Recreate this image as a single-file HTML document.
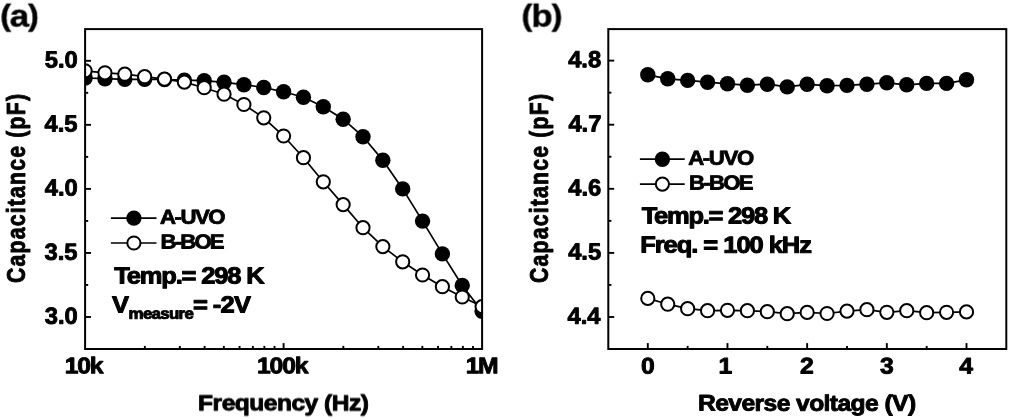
<!DOCTYPE html>
<html><head><meta charset="utf-8"><title>Capacitance plots</title>
<style>html,body{margin:0;padding:0;background:#fff}svg{display:block}</style></head>
<body>
<svg width="1009" height="418" viewBox="0 0 1009 418" font-family="'Liberation Sans', Arial, sans-serif" font-weight="bold" fill="#000">
<rect width="1009" height="418" fill="#fff"/>
<defs><clipPath id="ca"><rect x="85.1" y="29.1" width="397.00" height="319.90"/></clipPath><clipPath id="cb"><rect x="608.3" y="29.1" width="398.00" height="319.90"/></clipPath><filter id="soft" x="0" y="0" width="100%" height="100%" filterUnits="userSpaceOnUse"><feGaussianBlur stdDeviation="0.35"/></filter></defs>
<g filter="url(#soft)">
<g clip-path="url(#ca)">
<polyline points="85.10,78.00 104.95,78.70 124.80,79.30 144.65,79.30 164.50,79.50 184.35,80.10 204.20,80.70 224.05,82.30 243.90,84.70 263.75,87.50 283.60,91.80 303.45,97.30 323.30,106.70 343.15,119.20 363.00,136.70 382.85,160.30 402.70,188.90 422.55,221.10 442.40,253.90 462.25,285.50 482.10,311.30" fill="none" stroke="#000" stroke-width="1.7"/>
<circle cx="85.10" cy="78.00" r="7.7" fill="#000"/>
<circle cx="104.95" cy="78.70" r="7.7" fill="#000"/>
<circle cx="124.80" cy="79.30" r="7.7" fill="#000"/>
<circle cx="144.65" cy="79.30" r="7.7" fill="#000"/>
<circle cx="164.50" cy="79.50" r="7.7" fill="#000"/>
<circle cx="184.35" cy="80.10" r="7.7" fill="#000"/>
<circle cx="204.20" cy="80.70" r="7.7" fill="#000"/>
<circle cx="224.05" cy="82.30" r="7.7" fill="#000"/>
<circle cx="243.90" cy="84.70" r="7.7" fill="#000"/>
<circle cx="263.75" cy="87.50" r="7.7" fill="#000"/>
<circle cx="283.60" cy="91.80" r="7.7" fill="#000"/>
<circle cx="303.45" cy="97.30" r="7.7" fill="#000"/>
<circle cx="323.30" cy="106.70" r="7.7" fill="#000"/>
<circle cx="343.15" cy="119.20" r="7.7" fill="#000"/>
<circle cx="363.00" cy="136.70" r="7.7" fill="#000"/>
<circle cx="382.85" cy="160.30" r="7.7" fill="#000"/>
<circle cx="402.70" cy="188.90" r="7.7" fill="#000"/>
<circle cx="422.55" cy="221.10" r="7.7" fill="#000"/>
<circle cx="442.40" cy="253.90" r="7.7" fill="#000"/>
<circle cx="462.25" cy="285.50" r="7.7" fill="#000"/>
<circle cx="482.10" cy="311.30" r="7.7" fill="#000"/>
<polyline points="85.10,70.80 104.95,72.80 124.80,74.20 144.65,76.70 164.50,79.10 184.35,82.10 204.20,87.70 224.05,94.20 243.90,104.50 263.75,117.80 283.60,136.00 303.45,157.70 323.30,181.80 343.15,204.60 363.00,227.70 382.85,246.60 402.70,261.80 422.55,275.00 442.40,286.70 462.25,297.00 482.10,306.60" fill="none" stroke="#000" stroke-width="1.7"/>
<circle cx="85.10" cy="70.80" r="6.6" fill="#fff" stroke="#000" stroke-width="2.0"/>
<circle cx="104.95" cy="72.80" r="6.6" fill="#fff" stroke="#000" stroke-width="2.0"/>
<circle cx="124.80" cy="74.20" r="6.6" fill="#fff" stroke="#000" stroke-width="2.0"/>
<circle cx="144.65" cy="76.70" r="6.6" fill="#fff" stroke="#000" stroke-width="2.0"/>
<circle cx="164.50" cy="79.10" r="6.6" fill="#fff" stroke="#000" stroke-width="2.0"/>
<circle cx="184.35" cy="82.10" r="6.6" fill="#fff" stroke="#000" stroke-width="2.0"/>
<circle cx="204.20" cy="87.70" r="6.6" fill="#fff" stroke="#000" stroke-width="2.0"/>
<circle cx="224.05" cy="94.20" r="6.6" fill="#fff" stroke="#000" stroke-width="2.0"/>
<circle cx="243.90" cy="104.50" r="6.6" fill="#fff" stroke="#000" stroke-width="2.0"/>
<circle cx="263.75" cy="117.80" r="6.6" fill="#fff" stroke="#000" stroke-width="2.0"/>
<circle cx="283.60" cy="136.00" r="6.6" fill="#fff" stroke="#000" stroke-width="2.0"/>
<circle cx="303.45" cy="157.70" r="6.6" fill="#fff" stroke="#000" stroke-width="2.0"/>
<circle cx="323.30" cy="181.80" r="6.6" fill="#fff" stroke="#000" stroke-width="2.0"/>
<circle cx="343.15" cy="204.60" r="6.6" fill="#fff" stroke="#000" stroke-width="2.0"/>
<circle cx="363.00" cy="227.70" r="6.6" fill="#fff" stroke="#000" stroke-width="2.0"/>
<circle cx="382.85" cy="246.60" r="6.6" fill="#fff" stroke="#000" stroke-width="2.0"/>
<circle cx="402.70" cy="261.80" r="6.6" fill="#fff" stroke="#000" stroke-width="2.0"/>
<circle cx="422.55" cy="275.00" r="6.6" fill="#fff" stroke="#000" stroke-width="2.0"/>
<circle cx="442.40" cy="286.70" r="6.6" fill="#fff" stroke="#000" stroke-width="2.0"/>
<circle cx="462.25" cy="297.00" r="6.6" fill="#fff" stroke="#000" stroke-width="2.0"/>
<circle cx="482.10" cy="306.60" r="6.6" fill="#fff" stroke="#000" stroke-width="2.0"/>
</g>
<line x1="85.10" y1="60.80" x2="91.00" y2="60.80" stroke="#000" stroke-width="1.9"/>
<text transform="translate(44.69,67.50) scale(1.0200,1) rotate(0.03)" font-size="23.3" stroke="#000" stroke-width="0.9" stroke-linejoin="round">5.0</text>
<line x1="85.10" y1="124.85" x2="91.00" y2="124.85" stroke="#000" stroke-width="1.9"/>
<text transform="translate(44.43,131.55) scale(1.0200,1) rotate(0.03)" font-size="23.3" stroke="#000" stroke-width="0.9" stroke-linejoin="round">4.5</text>
<line x1="85.10" y1="188.90" x2="91.00" y2="188.90" stroke="#000" stroke-width="1.9"/>
<text transform="translate(44.69,195.60) scale(1.0200,1) rotate(0.03)" font-size="23.3" stroke="#000" stroke-width="0.9" stroke-linejoin="round">4.0</text>
<line x1="85.10" y1="252.95" x2="91.00" y2="252.95" stroke="#000" stroke-width="1.9"/>
<text transform="translate(44.43,259.65) scale(1.0200,1) rotate(0.03)" font-size="23.3" stroke="#000" stroke-width="0.9" stroke-linejoin="round">3.5</text>
<line x1="85.10" y1="317.00" x2="91.00" y2="317.00" stroke="#000" stroke-width="1.9"/>
<text transform="translate(44.69,323.70) scale(1.0200,1) rotate(0.03)" font-size="23.3" stroke="#000" stroke-width="0.9" stroke-linejoin="round">3.0</text>
<line x1="85.10" y1="92.82" x2="88.20" y2="92.82" stroke="#000" stroke-width="1.9"/>
<line x1="85.10" y1="156.88" x2="88.20" y2="156.88" stroke="#000" stroke-width="1.9"/>
<line x1="85.10" y1="220.93" x2="88.20" y2="220.93" stroke="#000" stroke-width="1.9"/>
<line x1="85.10" y1="284.97" x2="88.20" y2="284.97" stroke="#000" stroke-width="1.9"/>
<line x1="144.85" y1="349.00" x2="144.85" y2="345.90" stroke="#000" stroke-width="1.9"/>
<line x1="179.81" y1="349.00" x2="179.81" y2="345.90" stroke="#000" stroke-width="1.9"/>
<line x1="204.61" y1="349.00" x2="204.61" y2="345.90" stroke="#000" stroke-width="1.9"/>
<line x1="223.85" y1="349.00" x2="223.85" y2="345.90" stroke="#000" stroke-width="1.9"/>
<line x1="239.56" y1="349.00" x2="239.56" y2="345.90" stroke="#000" stroke-width="1.9"/>
<line x1="252.85" y1="349.00" x2="252.85" y2="345.90" stroke="#000" stroke-width="1.9"/>
<line x1="264.36" y1="349.00" x2="264.36" y2="345.90" stroke="#000" stroke-width="1.9"/>
<line x1="274.52" y1="349.00" x2="274.52" y2="345.90" stroke="#000" stroke-width="1.9"/>
<line x1="343.35" y1="349.00" x2="343.35" y2="345.90" stroke="#000" stroke-width="1.9"/>
<line x1="378.31" y1="349.00" x2="378.31" y2="345.90" stroke="#000" stroke-width="1.9"/>
<line x1="403.11" y1="349.00" x2="403.11" y2="345.90" stroke="#000" stroke-width="1.9"/>
<line x1="422.35" y1="349.00" x2="422.35" y2="345.90" stroke="#000" stroke-width="1.9"/>
<line x1="438.06" y1="349.00" x2="438.06" y2="345.90" stroke="#000" stroke-width="1.9"/>
<line x1="451.35" y1="349.00" x2="451.35" y2="345.90" stroke="#000" stroke-width="1.9"/>
<line x1="462.86" y1="349.00" x2="462.86" y2="345.90" stroke="#000" stroke-width="1.9"/>
<line x1="473.02" y1="349.00" x2="473.02" y2="345.90" stroke="#000" stroke-width="1.9"/>
<line x1="283.60" y1="349.00" x2="283.60" y2="343.10" stroke="#000" stroke-width="1.9"/>
<rect x="85.1" y="29.1" width="397.00" height="319.90" fill="none" stroke="#000" stroke-width="2.0"/>
<text transform="translate(64.71,373.30) scale(1.0900,1) rotate(0.03)" letter-spacing="-1.102" font-size="22.7" stroke="#000" stroke-width="0.9" stroke-linejoin="round">10k</text>
<text transform="translate(256.91,373.30) scale(1.0900,1) rotate(0.03)" letter-spacing="-1.029" font-size="22.7" stroke="#000" stroke-width="0.9" stroke-linejoin="round">100k</text>
<text transform="translate(465.71,373.30) scale(1.0900,1) rotate(0.03)" letter-spacing="-1.427" font-size="22.7" stroke="#000" stroke-width="0.9" stroke-linejoin="round">1M</text>
<text transform="translate(198.07,410.40) scale(1.0900,1) rotate(0.03)" letter-spacing="-0.494" font-size="22.6" stroke="#000" stroke-width="0.9" stroke-linejoin="round">Frequency (Hz)</text>
<text transform="translate(24.50,282.93) rotate(-90) scale(0.8500,1)" letter-spacing="1.396" font-size="25" stroke="#000" stroke-width="0.9" stroke-linejoin="round">Capacitance (pF)</text>
<text transform="translate(0.34,25.70) scale(1.0900,1) rotate(0.03)" letter-spacing="-1.249" font-size="30" stroke="#000" stroke-width="0.4" stroke-linejoin="round">(<tspan font-size="32" dy="1.0">a</tspan><tspan dy="-1.0">)</tspan></text>
<line x1="110.90" y1="218.10" x2="156.50" y2="218.10" stroke="#000" stroke-width="1.7"/>
<circle cx="133.90" cy="218.10" r="7.7" fill="#000"/>
<line x1="110.90" y1="243.00" x2="156.50" y2="243.00" stroke="#000" stroke-width="1.7"/>
<circle cx="133.90" cy="243.00" r="6.6" fill="#fff" stroke="#000" stroke-width="2.0"/>
<text transform="translate(160.03,223.80) scale(1.0900,1) rotate(0.03)" letter-spacing="-1.317" font-size="20.3" stroke="#000" stroke-width="0.8" stroke-linejoin="round">A-UVO</text>
<text transform="translate(160.61,248.50) scale(1.0900,1) rotate(0.03)" letter-spacing="-1.688" font-size="20.3" stroke="#000" stroke-width="0.8" stroke-linejoin="round">B-BOE</text>
<text transform="translate(114.27,283.40) scale(1.0900,1) rotate(0.03)" letter-spacing="-1.079" font-size="23.4" stroke="#000" stroke-width="1.0" stroke-linejoin="round">Temp.= 298 K</text>
<text transform="translate(111.98,312.40) scale(1.0900,1) rotate(0.03)" font-size="23.4" stroke="#000" stroke-width="1.0" stroke-linejoin="round">V</text>
<text transform="translate(128.62,318.80) scale(1.0900,1) rotate(0.03)" letter-spacing="-0.653" font-size="15.5" stroke="#000" stroke-width="0.9" stroke-linejoin="round">measure</text>
<text transform="translate(193.11,312.40) scale(1.0900,1) rotate(0.03)" font-size="23.4" stroke="#000" stroke-width="1.0" stroke-linejoin="round">=</text>
<text transform="translate(212.72,312.40) scale(1.0900,1) rotate(0.03)" letter-spacing="-0.600" font-size="23.4" stroke="#000" stroke-width="1.0" stroke-linejoin="round">-2V</text>
<g clip-path="url(#cb)">
<polyline points="647.80,74.80 667.72,78.80 687.64,80.40 707.56,82.20 727.47,83.80 747.39,85.20 767.31,84.20 787.23,86.90 807.15,84.30 827.07,85.70 846.99,85.40 866.91,84.20 886.83,82.80 906.74,84.80 926.66,83.40 946.58,83.40 966.50,79.80" fill="none" stroke="#000" stroke-width="1.7"/>
<circle cx="647.80" cy="74.80" r="7.7" fill="#000"/>
<circle cx="667.72" cy="78.80" r="7.7" fill="#000"/>
<circle cx="687.64" cy="80.40" r="7.7" fill="#000"/>
<circle cx="707.56" cy="82.20" r="7.7" fill="#000"/>
<circle cx="727.47" cy="83.80" r="7.7" fill="#000"/>
<circle cx="747.39" cy="85.20" r="7.7" fill="#000"/>
<circle cx="767.31" cy="84.20" r="7.7" fill="#000"/>
<circle cx="787.23" cy="86.90" r="7.7" fill="#000"/>
<circle cx="807.15" cy="84.30" r="7.7" fill="#000"/>
<circle cx="827.07" cy="85.70" r="7.7" fill="#000"/>
<circle cx="846.99" cy="85.40" r="7.7" fill="#000"/>
<circle cx="866.91" cy="84.20" r="7.7" fill="#000"/>
<circle cx="886.83" cy="82.80" r="7.7" fill="#000"/>
<circle cx="906.74" cy="84.80" r="7.7" fill="#000"/>
<circle cx="926.66" cy="83.40" r="7.7" fill="#000"/>
<circle cx="946.58" cy="83.40" r="7.7" fill="#000"/>
<circle cx="966.50" cy="79.80" r="7.7" fill="#000"/>
<polyline points="647.80,298.40 667.72,304.20 687.64,308.70 707.56,310.70 727.47,310.30 747.39,310.70 767.31,311.70 787.23,313.70 807.15,312.40 827.07,313.50 846.99,311.10 866.91,309.70 886.83,312.30 906.74,310.70 926.66,312.70 946.58,312.30 966.50,311.90" fill="none" stroke="#000" stroke-width="1.7"/>
<circle cx="647.80" cy="298.40" r="6.6" fill="#fff" stroke="#000" stroke-width="2.0"/>
<circle cx="667.72" cy="304.20" r="6.6" fill="#fff" stroke="#000" stroke-width="2.0"/>
<circle cx="687.64" cy="308.70" r="6.6" fill="#fff" stroke="#000" stroke-width="2.0"/>
<circle cx="707.56" cy="310.70" r="6.6" fill="#fff" stroke="#000" stroke-width="2.0"/>
<circle cx="727.47" cy="310.30" r="6.6" fill="#fff" stroke="#000" stroke-width="2.0"/>
<circle cx="747.39" cy="310.70" r="6.6" fill="#fff" stroke="#000" stroke-width="2.0"/>
<circle cx="767.31" cy="311.70" r="6.6" fill="#fff" stroke="#000" stroke-width="2.0"/>
<circle cx="787.23" cy="313.70" r="6.6" fill="#fff" stroke="#000" stroke-width="2.0"/>
<circle cx="807.15" cy="312.40" r="6.6" fill="#fff" stroke="#000" stroke-width="2.0"/>
<circle cx="827.07" cy="313.50" r="6.6" fill="#fff" stroke="#000" stroke-width="2.0"/>
<circle cx="846.99" cy="311.10" r="6.6" fill="#fff" stroke="#000" stroke-width="2.0"/>
<circle cx="866.91" cy="309.70" r="6.6" fill="#fff" stroke="#000" stroke-width="2.0"/>
<circle cx="886.83" cy="312.30" r="6.6" fill="#fff" stroke="#000" stroke-width="2.0"/>
<circle cx="906.74" cy="310.70" r="6.6" fill="#fff" stroke="#000" stroke-width="2.0"/>
<circle cx="926.66" cy="312.70" r="6.6" fill="#fff" stroke="#000" stroke-width="2.0"/>
<circle cx="946.58" cy="312.30" r="6.6" fill="#fff" stroke="#000" stroke-width="2.0"/>
<circle cx="966.50" cy="311.90" r="6.6" fill="#fff" stroke="#000" stroke-width="2.0"/>
</g>
<line x1="608.30" y1="60.60" x2="614.20" y2="60.60" stroke="#000" stroke-width="1.9"/>
<text transform="translate(568.13,67.30) scale(1.0200,1) rotate(0.03)" font-size="23.3" stroke="#000" stroke-width="0.9" stroke-linejoin="round">4.8</text>
<line x1="608.30" y1="124.70" x2="614.20" y2="124.70" stroke="#000" stroke-width="1.9"/>
<text transform="translate(568.39,131.40) scale(1.0200,1) rotate(0.03)" font-size="23.3" stroke="#000" stroke-width="0.9" stroke-linejoin="round">4.7</text>
<line x1="608.30" y1="188.80" x2="614.20" y2="188.80" stroke="#000" stroke-width="1.9"/>
<text transform="translate(568.26,195.50) scale(1.0200,1) rotate(0.03)" font-size="23.3" stroke="#000" stroke-width="0.9" stroke-linejoin="round">4.6</text>
<line x1="608.30" y1="252.90" x2="614.20" y2="252.90" stroke="#000" stroke-width="1.9"/>
<text transform="translate(568.13,259.60) scale(1.0200,1) rotate(0.03)" font-size="23.3" stroke="#000" stroke-width="0.9" stroke-linejoin="round">4.5</text>
<line x1="608.30" y1="317.00" x2="614.20" y2="317.00" stroke="#000" stroke-width="1.9"/>
<text transform="translate(567.50,323.70) scale(1.0200,1) rotate(0.03)" font-size="23.3" stroke="#000" stroke-width="0.9" stroke-linejoin="round">4.4</text>
<line x1="608.30" y1="92.65" x2="611.40" y2="92.65" stroke="#000" stroke-width="1.9"/>
<line x1="608.30" y1="156.75" x2="611.40" y2="156.75" stroke="#000" stroke-width="1.9"/>
<line x1="608.30" y1="220.85" x2="611.40" y2="220.85" stroke="#000" stroke-width="1.9"/>
<line x1="608.30" y1="284.95" x2="611.40" y2="284.95" stroke="#000" stroke-width="1.9"/>
<line x1="647.80" y1="349.00" x2="647.80" y2="343.10" stroke="#000" stroke-width="1.9"/>
<text transform="translate(641.12,373.40) scale(1.0900,1) rotate(0.03)" font-size="22.7" stroke="#000" stroke-width="0.9" stroke-linejoin="round">0</text>
<line x1="727.47" y1="349.00" x2="727.47" y2="343.10" stroke="#000" stroke-width="1.9"/>
<text transform="translate(718.54,373.40) scale(1.0900,1) rotate(0.03)" font-size="22.7" stroke="#000" stroke-width="0.9" stroke-linejoin="round">1</text>
<line x1="807.15" y1="349.00" x2="807.15" y2="343.10" stroke="#000" stroke-width="1.9"/>
<text transform="translate(799.99,373.40) scale(1.0900,1) rotate(0.03)" font-size="22.7" stroke="#000" stroke-width="0.9" stroke-linejoin="round">2</text>
<line x1="886.83" y1="349.00" x2="886.83" y2="343.10" stroke="#000" stroke-width="1.9"/>
<text transform="translate(880.11,373.40) scale(1.0900,1) rotate(0.03)" font-size="22.7" stroke="#000" stroke-width="0.9" stroke-linejoin="round">3</text>
<line x1="966.50" y1="349.00" x2="966.50" y2="343.10" stroke="#000" stroke-width="1.9"/>
<text transform="translate(959.28,373.40) scale(1.0900,1) rotate(0.03)" font-size="22.7" stroke="#000" stroke-width="0.9" stroke-linejoin="round">4</text>
<line x1="687.64" y1="349.00" x2="687.64" y2="345.90" stroke="#000" stroke-width="1.9"/>
<line x1="767.31" y1="349.00" x2="767.31" y2="345.90" stroke="#000" stroke-width="1.9"/>
<line x1="846.99" y1="349.00" x2="846.99" y2="345.90" stroke="#000" stroke-width="1.9"/>
<line x1="926.66" y1="349.00" x2="926.66" y2="345.90" stroke="#000" stroke-width="1.9"/>
<rect x="608.3" y="29.1" width="398.00" height="319.90" fill="none" stroke="#000" stroke-width="2.0"/>
<text transform="translate(697.97,410.60) scale(1.0900,1) rotate(0.03)" letter-spacing="-0.529" font-size="22.6" stroke="#000" stroke-width="0.9" stroke-linejoin="round">Reverse voltage (V)</text>
<text transform="translate(547.60,282.93) rotate(-90) scale(0.8500,1)" letter-spacing="1.396" font-size="25" stroke="#000" stroke-width="0.9" stroke-linejoin="round">Capacitance (pF)</text>
<text transform="translate(521.64,25.70) scale(1.0900,1) rotate(0.03)" letter-spacing="-1.023" font-size="30" stroke="#000" stroke-width="0.4" stroke-linejoin="round">(<tspan font-size="32" dy="0.7">b</tspan><tspan dy="-0.7">)</tspan></text>
<line x1="639.90" y1="159.20" x2="684.70" y2="159.20" stroke="#000" stroke-width="1.7"/>
<circle cx="662.40" cy="159.20" r="7.7" fill="#000"/>
<line x1="639.90" y1="184.10" x2="684.70" y2="184.10" stroke="#000" stroke-width="1.7"/>
<circle cx="662.40" cy="184.10" r="6.6" fill="#fff" stroke="#000" stroke-width="2.0"/>
<text transform="translate(688.13,164.80) scale(1.0900,1) rotate(0.03)" letter-spacing="-1.202" font-size="20.3" stroke="#000" stroke-width="0.8" stroke-linejoin="round">A-UVO</text>
<text transform="translate(689.11,189.50) scale(1.0900,1) rotate(0.03)" letter-spacing="-1.596" font-size="20.3" stroke="#000" stroke-width="0.8" stroke-linejoin="round">B-BOE</text>
<text transform="translate(641.67,223.40) scale(1.0900,1) rotate(0.03)" letter-spacing="-1.146" font-size="23.4" stroke="#000" stroke-width="1.0" stroke-linejoin="round">Temp.= 298 K</text>
<text transform="translate(640.17,252.60) scale(1.0900,1) rotate(0.03)" letter-spacing="-0.954" font-size="23.4" stroke="#000" stroke-width="1.0" stroke-linejoin="round">Freq. = 100 kHz</text>
</g>
</svg>
</body></html>
